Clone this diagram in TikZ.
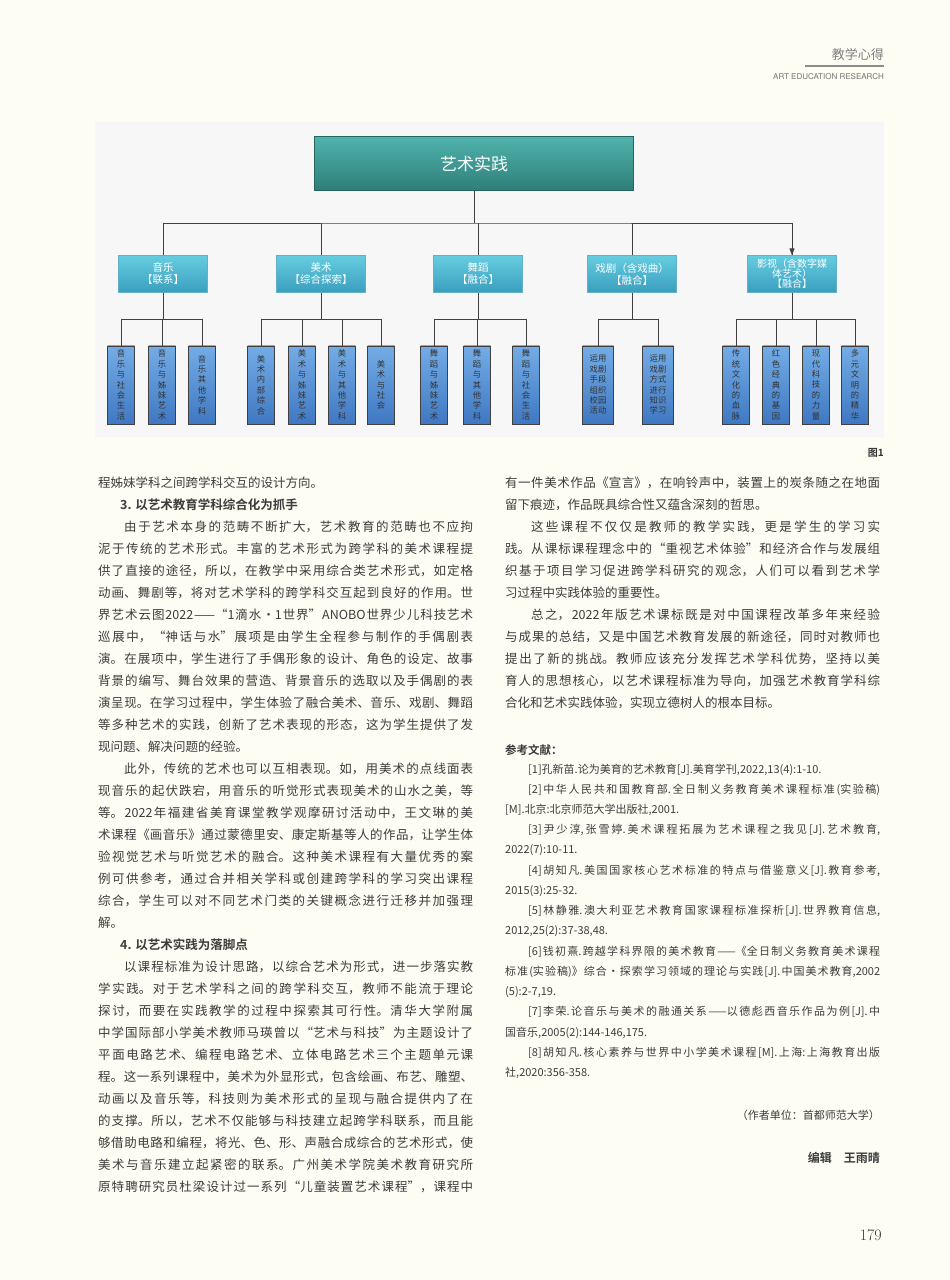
\documentclass[tikz,border=0pt]{standalone}
\usepackage{fontspec}
\usetikzlibrary{arrows.meta}
\setmainfont{Noto Sans CJK SC}[BoldFont={Noto Sans CJK SC Bold}]
\newfontfamily\lmr{Latin Modern Roman}
\newfontfamily\hsans{TeX Gyre Heros}
\XeTeXlinebreaklocale "zh"
\XeTeXlinebreakskip=0pt plus 3pt
\definecolor{pagebg}{HTML}{FDFDF4}
\definecolor{txt}{HTML}{3C3C3C}
\definecolor{topA}{HTML}{4FB3AC}
\definecolor{topB}{HTML}{2F7F79}
\definecolor{midA}{HTML}{66CDE0}
\definecolor{midB}{HTML}{3A9EBE}
\definecolor{leafA}{HTML}{74ACE6}
\definecolor{leafB}{HTML}{3F78C2}
\tikzset{
  topbox/.style={draw=topB!80!black,top color=topA,bottom color=topB,minimum width=319pt,minimum height=54pt,inner sep=0pt,text=white,font=\fontsize{17}{20}\selectfont},
  midbox/.style={draw=midB!80!white,top color=midA,bottom color=midB,minimum width=89pt,minimum height=37pt,inner sep=1pt,text=white,align=center,font=\fontsize{10.5}{12}\selectfont},
  leafbox/.style={draw=black!75,line width=0.8pt,top color=leafA,bottom color=leafB,minimum width=27pt,minimum height=78pt,anchor=north,inner sep=0pt,align=center,text=black!80,font=\fontsize{8.3}{10.4}\selectfont},
  wire/.style={draw=black!75,line width=1pt},
  jl/.style={anchor=west,inner sep=0pt,text width=#1,align=justify,text=txt},
  rl/.style={anchor=west,inner sep=0pt,text=txt}
}
\newcommand\J[4]{\node[jl=#3pt,font=\fontsize{12.5}{15}\selectfont] at (#1,#2) {#4\parfillskip=0pt\par};}
\newcommand\R[3]{\node[rl,font=\fontsize{12.5}{15}\selectfont] at (#1,#2) {#3};}
\newcommand\JS[4]{\node[jl=#3pt,font=\fontsize{11}{13}\selectfont] at (#1,#2) {#4\parfillskip=0pt\par};}
\newcommand\RS[3]{\node[rl,font=\fontsize{11}{13}\selectfont] at (#1,#2) {#3};}
\begin{document}
\begin{tikzpicture}[x=1pt,y=-1pt]
\fill[pagebg] (0,0) rectangle (950,1280);
\useasboundingbox (0,0) rectangle (950,1280);
% header
\node[anchor=east,inner sep=0pt,text=black!50,font=\fontsize{13}{14}\selectfont] (hd) at (884,55) {教学心得};
\draw[black!45,line width=1.2pt] (805,66) -- (884,66);
\node[anchor=east,inner sep=0pt,text=black!55,font=\hsans\fontsize{8}{9}\selectfont] (hd2) at (884,77) {ART EDUCATION RESEARCH};
% panel
\fill[white] (95,122) rectangle (884,437);
\fill[black!3] (95,122) rectangle (884,437);
\node[anchor=east,inner sep=0pt,font=\fontsize{10}{11}\selectfont\bfseries,text=black!80] (fig) at (884,453) {图1};
% diagram
\node[topbox] (top) at (474,163.5) {艺术实践};
\node[midbox] (m1) at (163,274) {音乐\\【联系】};
\node[midbox] (m2) at (321,274) {美术\\【综合探索】};
\node[midbox] (m3) at (478,274) {舞蹈\\【融合】};
\node[midbox] (m4) at (632,274) {戏剧（含戏曲）\\【融合】};
\node[midbox,font=\fontsize{10}{10}\selectfont] (m5) at (792,274) {影视（含数字媒\\体艺术）\\【融合】};
\coordinate (bus) at (474,223);
\draw[wire] (top.south) -- (bus);
\draw[wire] (m1.north) |- (bus) -| (m5.north);
\draw[wire] (m2.north) -- (m2.north |- bus);
\draw[wire] (m3.north) -- (m3.north |- bus);
\draw[wire] (m4.north) -- (m4.north |- bus);
\draw[wire,-{Triangle[length=7pt,width=5pt]}] (m5.north |- bus) -- (m5.north);
% leaves
\foreach \n/\x/\t in {a1/121/音\\乐\\与\\社\\会\\生\\活, a2/162/音\\乐\\与\\姊\\妹\\艺\\术, a3/202/音\\乐\\其\\他\\学\\科,
 b1/261/美\\术\\内\\部\\综\\合, b2/302/美\\术\\与\\姊\\妹\\艺\\术, b3/342/美\\术\\与\\其\\他\\学\\科, b4/381/美\\术\\与\\社\\会,
 c1/434/舞\\蹈\\与\\姊\\妹\\艺\\术, c2/477/舞\\蹈\\与\\其\\他\\学\\科, c3/526/舞\\蹈\\与\\社\\会\\生\\活,
 e1/736/传\\统\\文\\化\\的\\血\\脉, e2/776/红\\色\\经\\典\\的\\基\\因, e3/816/现\\代\\科\\技\\的\\力\\量, e4/855/多\\元\\文\\明\\的\\精\\华}
 {\node[leafbox] (\n) at (\x,345.5) {\t};}
\node[leafbox,minimum width=31pt] (d1) at (598,345.5) {运用\\戏剧\\手段\\组织\\校园\\活动};
\node[leafbox,minimum width=31pt] (d2) at (658,345.5) {运用\\戏剧\\方式\\进行\\知识\\学习};
\foreach \p/\f/\l/\ks in {m1/a1/a3/{a1,a2,a3}, m2/b1/b4/{b1,b2,b3,b4}, m3/c1/c3/{c1,c2,c3}, m4/d1/d2/{d1,d2}, m5/e1/e4/{e1,e2,e3,e4}}{
  \draw[wire] (\p.south) -- (\p.south |- 0,319);
  \draw[wire] (\f.north |- 0,319) -- (\l.north |- 0,319);
  \foreach \k in \ks {\draw[wire] (\k.north) -- (\k.north |- 0,319);}
}
% left column
\R{98}{483}{程姊妹学科之间跨学科交互的设计方向。}
\node[rl,font=\fontsize{12.5}{15}\selectfont\bfseries] (h3) at (120,505) {3. 以艺术教育学科综合化为抓手};
\J{124}{527}{349}{由于艺术本身的范畴不断扩大，艺术教育的范畴也不应拘}
\J{98}{549}{375}{泥于传统的艺术形式。丰富的艺术形式为跨学科的美术课程提}
\J{98}{571}{375}{供了直接的途径，所以，在教学中采用综合类艺术形式，如定格}
\J{98}{593}{375}{动画、舞剧等，将对艺术学科的跨学科交互起到良好的作用。世}
\J{98}{615}{375}{界艺术云图2022——“1滴水·1世界”ANOBO世界少儿科技艺术}
\J{98}{637}{375}{巡展中，“神话与水”展项是由学生全程参与制作的手偶剧表}
\J{98}{659}{375}{演。在展项中，学生进行了手偶形象的设计、角色的设定、故事}
\J{98}{681}{375}{背景的编写、舞台效果的营造、背景音乐的选取以及手偶剧的表}
\J{98}{703}{375}{演呈现。在学习过程中，学生体验了融合美术、音乐、戏剧、舞蹈}
\J{98}{725}{375}{等多种艺术的实践，创新了艺术表现的形态，这为学生提供了发}
\R{98}{747}{现问题、解决问题的经验。}
\J{124}{769}{349}{此外，传统的艺术也可以互相表现。如，用美术的点线面表}
\J{98}{791}{375}{现音乐的起伏跌宕，用音乐的听觉形式表现美术的山水之美，等}
\J{98}{813}{375}{等。2022年福建省美育课堂教学观摩研讨活动中，王文琳的美}
\J{98}{835}{375}{术课程《画音乐》通过蒙德里安、康定斯基等人的作品，让学生体}
\J{98}{857}{375}{验视觉艺术与听觉艺术的融合。这种美术课程有大量优秀的案}
\J{98}{879}{375}{例可供参考，通过合并相关学科或创建跨学科的学习突出课程}
\J{98}{901}{375}{综合，学生可以对不同艺术门类的关键概念进行迁移并加强理}
\R{98}{923}{解。}
\node[rl,font=\fontsize{12.5}{15}\selectfont\bfseries] (h4) at (120,945) {4. 以艺术实践为落脚点};
\J{124}{967}{349}{以课程标准为设计思路，以综合艺术为形式，进一步落实教}
\J{98}{989}{375}{学实践。对于艺术学科之间的跨学科交互，教师不能流于理论}
\J{98}{1011}{375}{探讨，而要在实践教学的过程中探索其可行性。清华大学附属}
\J{98}{1033}{375}{中学国际部小学美术教师马瑛曾以“艺术与科技”为主题设计了}
\J{98}{1055}{375}{平面电路艺术、编程电路艺术、立体电路艺术三个主题单元课}
\J{98}{1077}{375}{程。这一系列课程中，美术为外显形式，包含绘画、布艺、雕塑、}
\J{98}{1099}{375}{动画以及音乐等，科技则为美术形式的呈现与融合提供内了在}
\J{98}{1121}{375}{的支撑。所以，艺术不仅能够与科技建立起跨学科联系，而且能}
\J{98}{1143}{375}{够借助电路和编程，将光、色、形、声融合成综合的艺术形式，使}
\J{98}{1165}{375}{美术与音乐建立起紧密的联系。广州美术学院美术教育研究所}
\J{98}{1187}{375}{原特聘研究员杜梁设计过一系列“儿童装置艺术课程”，课程中}
% right column
\J{505}{483}{375}{有一件美术作品《宣言》，在响铃声中，装置上的炭条随之在地面}
\R{505}{505}{留下痕迹，作品既具综合性又蕴含深刻的哲思。}
\J{531}{527}{349}{这些课程不仅仅是教师的教学实践，更是学生的学习实}
\J{505}{549}{375}{践。从课标课程理念中的“重视艺术体验”和经济合作与发展组}
\J{505}{571}{375}{织基于项目学习促进跨学科研究的观念，人们可以看到艺术学}
\R{505}{593}{习过程中实践体验的重要性。}
\J{531}{615}{349}{总之，2022年版艺术课标既是对中国课程改革多年来经验}
\J{505}{637}{375}{与成果的总结，又是中国艺术教育发展的新途径，同时对教师也}
\J{505}{659}{375}{提出了新的挑战。教师应该充分发挥艺术学科优势，坚持以美}
\J{505}{681}{375}{育人的思想核心，以艺术课程标准为导向，加强艺术教育学科综}
\R{505}{703}{合化和艺术实践体验，实现立德树人的根本目标。}
\node[rl,font=\fontsize{11.5}{13}\selectfont\bfseries] (ref) at (505,750) {参考文献：};
\RS{528}{770}{[1]孔新苗.论为美育的艺术教育[J].美育学刊,2022,13(4):1-10.}
\JS{528}{790}{352}{[2]中华人民共和国教育部.全日制义务教育美术课程标准(实验稿)}
\RS{505}{810}{[M].北京:北京师范大学出版社,2001.}
\JS{528}{830}{352}{[3]尹少淳,张雪婷.美术课程拓展为艺术课程之我见[J].艺术教育,}
\RS{505}{850}{2022(7):10-11.}
\JS{528}{871}{352}{[4]胡知凡.美国国家核心艺术标准的特点与借鉴意义[J].教育参考,}
\RS{505}{891}{2015(3):25-32.}
\JS{528}{911}{352}{[5]林静雅.澳大利亚艺术教育国家课程标准探析[J].世界教育信息,}
\RS{505}{931}{2012,25(2):37-38,48.}
\JS{528}{952}{352}{[6]钱初熹.跨越学科界限的美术教育——《全日制义务教育美术课程}
\JS{505}{972}{375}{标准(实验稿)》综合·探索学习领域的理论与实践[J].中国美术教育,2002}
\RS{505}{992}{(5):2-7,19.}
\JS{528}{1012}{352}{[7]李荣.论音乐与美术的融通关系——以德彪西音乐作品为例[J].中}
\RS{505}{1033}{国音乐,2005(2):144-146,175.}
\JS{528}{1053}{352}{[8]胡知凡.核心素养与世界中小学美术课程[M].上海:上海教育出版}
\RS{505}{1073}{社,2020:356-358.}
\node[anchor=east,inner sep=0pt,text=txt,font=\fontsize{11}{13}\selectfont] (aff) at (880,1115) {（作者单位：首都师范大学）};
\node[anchor=east,inner sep=0pt,text=txt,font=\fontsize{12}{14}\selectfont\bfseries] (ed) at (880,1158) {编辑\hspace{1em}王雨晴};
\node[anchor=east,inner sep=0pt,text=txt,font=\lmr\fontsize{16}{18}\selectfont] (pg) at (882,1235) {179};
\end{tikzpicture}
\end{document}
